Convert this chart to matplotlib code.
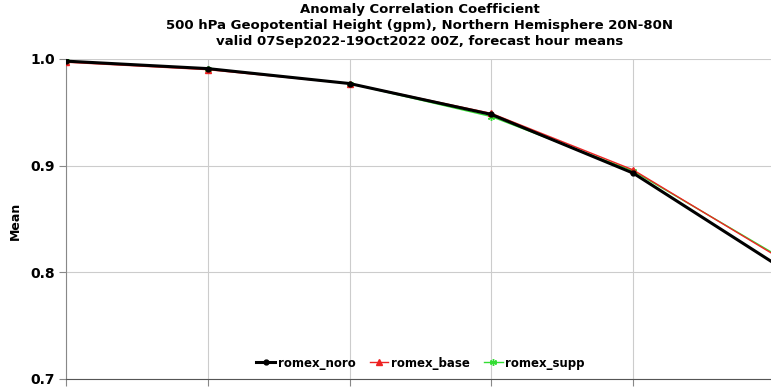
import numpy as np
import matplotlib
matplotlib.use('Agg')
import matplotlib.pyplot as plt

# forecast hour means of the 500 hPa height ACC, NH 20N-80N
fhours = [0, 24, 48, 72, 96, 120]
romex_noro = [0.998, 0.991, 0.977, 0.948, 0.893, 0.808]
romex_base = [0.997, 0.990, 0.977, 0.949, 0.896, 0.816]
romex_supp = [0.998, 0.991, 0.977, 0.946, 0.895, 0.817]

yticks = [0.7, 0.8, 0.9, 1.0]
title_lines = ['Anomaly Correlation Coefficient',
               '500 hPa Geopotential Height (gpm), Northern Hemisphere 20N-80N',
               'valid 07Sep2022-19Oct2022 00Z, forecast hour means']

fig = plt.figure(figsize=(7.71, 3.90), dpi=100)
# axes runs on past the right side of the figure
ax = fig.add_axes([66/771, 11/390, (775-66)/771, 320/390])

ax.plot(fhours, romex_noro, color='black', lw=2.2, marker='o', ms=3.5, label='romex_noro', zorder=5)
ax.plot(fhours, romex_base, color='#ee2222', lw=1.0, marker='^', ms=4, label='romex_base', zorder=4)
ax.plot(fhours, romex_supp, color='#33dd33', lw=1.0, marker=(6, 2, 0), ms=5, mew=1, label='romex_supp', zorder=3)

ax.set_xlim(0, 120)
ax.set_ylim(0.7, 1.0)
ax.set_yticks(yticks)
ax.set_yticklabels(['%.1f' % v for v in yticks], fontweight='bold', fontsize=10)
ax.set_xticks(fhours)
ax.set_xticklabels([])
ax.grid(True, color='#cccccc', lw=0.8)
ax.tick_params(length=5, color='#888888', direction='out', pad=3)
for side in ['top', 'right']:
    ax.spines[side].set_visible(False)
ax.spines['left'].set_color('#888888')
ax.spines['bottom'].set_color('#555555')

fig.text(15/771, 1 - 221/390, 'Mean', rotation=90, ha='center', va='center', fontweight='bold', fontsize=9)
for i, line in enumerate(title_lines):
    fig.text(420/771, 1 - (10 + 15.5*i)/390, line, ha='center', va='center', fontweight='bold', fontsize=9.5)

ax.legend(loc='center', bbox_to_anchor=(0.5, (379-363)/320), ncol=3, frameon=False,
          handlelength=1.6, handletextpad=0.2, columnspacing=1.2,
          prop={'weight': 'bold', 'size': 8.5})

fig.savefig('out.png', dpi=100)
